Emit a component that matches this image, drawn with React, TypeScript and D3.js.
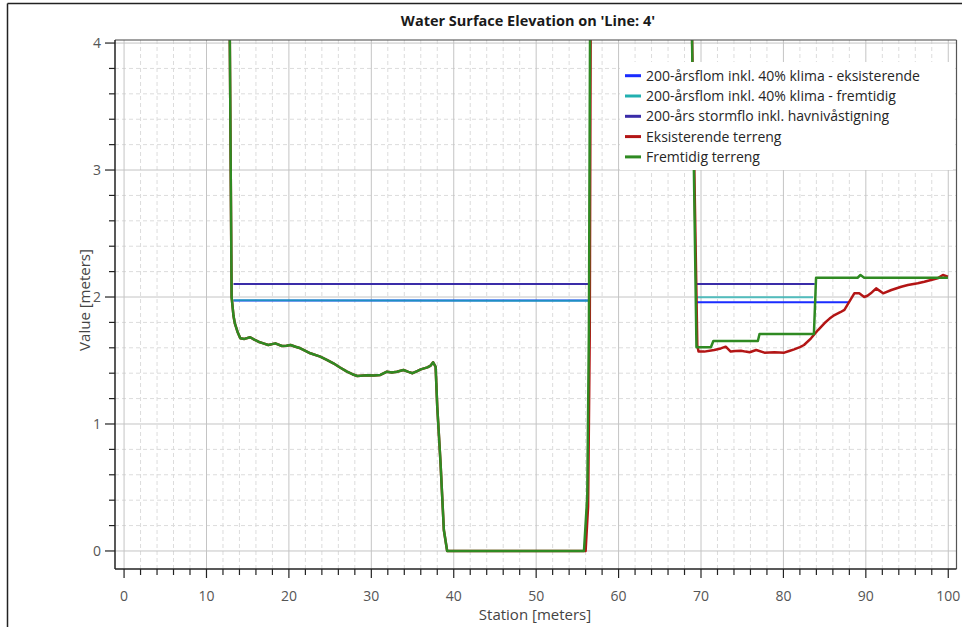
import React from "react";
import * as d3 from "d3";

// Cross-section geometry along 'Line: 4' (station in m, elevation in m)
const channelStations = [12.8, 13.05, 13.28, 13.45, 13.8, 14.1, 14.6, 15.3, 15.8, 16.3, 16.9, 17.5, 18.35, 19.16, 19.7, 20.2, 20.8, 21.4, 22.6, 23.8, 24.6, 25.4, 26.2, 27.05, 27.7, 28.3, 29.5, 30.3, 31.1, 31.9, 32.5, 33.1, 33.9, 34.5, 35.0, 35.5, 36.0, 36.8, 37.2, 37.5, 37.8, 38.0, 38.4, 38.8, 39.2, 55.8];
const channelElevation = [4.3, 2.0, 1.85, 1.79, 1.72, 1.675, 1.67, 1.683, 1.665, 1.648, 1.635, 1.622, 1.635, 1.614, 1.616, 1.622, 1.608, 1.596, 1.557, 1.53, 1.505, 1.478, 1.445, 1.412, 1.392, 1.378, 1.383, 1.382, 1.386, 1.412, 1.405, 1.412, 1.425, 1.41, 1.4, 1.415, 1.43, 1.446, 1.46, 1.486, 1.45, 1.136, 0.69, 0.165, 0.0, 0.0];

const existingBankStations = [56.0, 56.3, 56.5, 56.62, 68.85, 69.55, 69.7, 70.4, 71.6, 72.4, 73.0, 73.6, 74.2, 74.85, 75.4, 75.9, 76.7, 77.7, 78.9, 80.1, 80.7, 81.3, 82.0, 82.5, 83.35, 84.2, 84.97, 85.6, 86.2, 86.9, 87.4, 88.0, 88.6, 89.2, 89.8, 90.2, 90.6, 91.25, 92.1, 93.1, 94.3, 95.1, 96.3, 97.1, 97.9, 98.7, 99.35, 99.96];
const existingBankElevation = [0.0, 0.35, 1.7, 4.3, 4.3, 1.62, 1.57, 1.57, 1.583, 1.595, 1.609, 1.57, 1.575, 1.577, 1.57, 1.565, 1.583, 1.562, 1.565, 1.562, 1.575, 1.588, 1.605, 1.622, 1.675, 1.74, 1.793, 1.83, 1.858, 1.88, 1.898, 1.963, 2.029, 2.029, 2.0, 2.01, 2.029, 2.068, 2.029, 2.055, 2.081, 2.094, 2.108, 2.12, 2.134, 2.147, 2.173, 2.16];

const futureBankStations = [56.2, 56.4, 56.55, 68.85, 69.45, 71.2, 71.5, 76.9, 77.1, 83.7, 83.96, 89.0, 89.35, 89.8, 99.96];
const futureBankElevation = [0.43, 1.74, 4.3, 4.3, 1.604, 1.604, 1.654, 1.654, 1.709, 1.709, 2.152, 2.152, 2.173, 2.152, 2.152];

// Water surface levels, two wetted reaches separated by a gap (NaN)
const floodExistingStations = [13.28, 56.45, NaN, 69.5, 88.0];
const floodExistingLevel = [1.972, 1.972, NaN, 1.958, 1.958];
const floodFutureStations = [13.28, 56.45, NaN, 69.5, 83.6];
const floodFutureLevel = [1.975, 1.97, NaN, 1.998, 1.998];
const stormSurgeStations = [13.28, 56.45, NaN, 69.5, 83.8];
const stormSurgeLevel = [2.102, 2.102, NaN, 2.102, 2.102];

const seriesNames = [
  "200-årsflom inkl. 40% klima - eksisterende",
  "200-årsflom inkl. 40% klima - fremtidig",
  "200-års stormflo inkl. havnivåstigning",
  "Eksisterende terreng",
  "Fremtidig terreng",
];
const seriesColors = ["#1a2cff", "#22b0b0", "#3a2ca8", "#b31515", "#2f8a22"];

const xMajorTicks = [0, 10, 20, 30, 40, 50, 60, 70, 80, 90, 100];
const yMajorTicks = [0, 1, 2, 3, 4];

const W = 962;
const H = 627;
const plot = { left: 115, right: 956.5, top: 40, bottom: 569 };
const FONT = "'Open Sans', 'Noto Sans', sans-serif";

type Pt = { x: number; y: number };
const zip = (xs: number[], ys: number[]): Pt[] => xs.map((x, i) => ({ x, y: ys[i] }));

export default function App() {
  const x = d3.scaleLinear().domain([-1.1, 101.0]).range([plot.left, plot.right]);
  const y = d3.scaleLinear().domain([-0.142, 4.024]).range([plot.bottom, plot.top]);
  const line = d3
    .line<Pt>()
    .defined((d) => !isNaN(d.x) && !isNaN(d.y))
    .x((d) => x(d.x))
    .y((d) => y(d.y));

  const existingTerrain = zip(
    [...channelStations, ...existingBankStations],
    [...channelElevation, ...existingBankElevation]
  );
  const futureTerrain = zip(
    [...channelStations, ...futureBankStations],
    [...channelElevation, ...futureBankElevation]
  );

  const xMinor = d3.range(0, 101, 2).filter((v) => v % 10 !== 0);
  const yMinor = d3.range(0, 4.01, 0.2).map((v) => +v.toFixed(1)).filter((v) => Math.abs(v - Math.round(v)) > 0.01);

  const legendX = 620;
  const legendY = 62;
  const legendRow = 20.3;

  return (
    <svg width={W} height={H} style={{ position: "absolute", left: 0, top: 0, background: "#fff" }}>
      <defs>
        <clipPath id="plot-clip">
          <rect x={plot.left} y={plot.top} width={plot.right - plot.left} height={plot.bottom - plot.top} />
        </clipPath>
      </defs>
      <rect x={0} y={0} width={W} height={H} fill="#fff" />
      {/* outer frame */}
      <line x1={7.5} y1={3.5} x2={W} y2={3.5} stroke="#222" strokeWidth={1.5} />
      <line x1={7.5} y1={3.5} x2={7.5} y2={H} stroke="#222" strokeWidth={1.5} />

      <text x={528} y={26} textAnchor="middle" fontFamily={FONT} fontWeight="bold" fontSize={14.5} fill="#1a1a1a">
        Water Surface Elevation on 'Line: 4'
      </text>

      {/* grid */}
      <g>
        {xMinor.map((v) => (
          <line key={"xm" + v} x1={x(v)} x2={x(v)} y1={plot.top} y2={plot.bottom} stroke="#dcdcdc" strokeDasharray="4,3" />
        ))}
        {yMinor.map((v) => (
          <line key={"ym" + v} x1={plot.left} x2={plot.right} y1={y(v)} y2={y(v)} stroke="#dcdcdc" strokeDasharray="4,3" />
        ))}
        {xMajorTicks.map((v) => (
          <line key={"xg" + v} x1={x(v)} x2={x(v)} y1={plot.top} y2={plot.bottom} stroke="#c4c4c4" />
        ))}
        {yMajorTicks.map((v) => (
          <line key={"yg" + v} x1={plot.left} x2={plot.right} y1={y(v)} y2={y(v)} stroke="#c4c4c4" />
        ))}
      </g>

      {/* series */}
      <g clipPath="url(#plot-clip)" fill="none" strokeLinejoin="round">
        <path d={line(zip(floodExistingStations, floodExistingLevel)) || ""} stroke={seriesColors[0]} strokeWidth={2} />
        <path d={line(zip(floodFutureStations, floodFutureLevel)) || ""} stroke={seriesColors[1]} strokeWidth={2} strokeOpacity={0.75} />
        <path d={line(zip(stormSurgeStations, stormSurgeLevel)) || ""} stroke={seriesColors[2]} strokeWidth={2} />
        <path d={line(existingTerrain) || ""} stroke={seriesColors[3]} strokeWidth={2.5} />
        <path d={line(futureTerrain) || ""} stroke={seriesColors[4]} strokeWidth={2.5} />
      </g>

      {/* frame */}
      <line x1={plot.left} x2={plot.right} y1={plot.top} y2={plot.top} stroke="#444" strokeWidth={1.2} />
      <line x1={plot.right} x2={plot.right} y1={plot.top} y2={plot.bottom} stroke="#555" strokeWidth={1.2} />
      <line x1={plot.left} x2={plot.right} y1={plot.bottom} y2={plot.bottom} stroke="#222" strokeWidth={1.5} />
      <line x1={plot.left} x2={plot.left} y1={plot.top} y2={plot.bottom} stroke="#222" strokeWidth={1.5} />

      {/* x axis ticks */}
      {xMinor.map((v) => (
        <line key={"xt" + v} x1={x(v)} x2={x(v)} y1={plot.bottom} y2={plot.bottom + 6} stroke="#222" strokeWidth={1.2} />
      ))}
      {xMajorTicks.map((v) => (
        <g key={"xT" + v}>
          <line x1={x(v)} x2={x(v)} y1={plot.bottom} y2={plot.bottom + 9} stroke="#222" strokeWidth={1.2} />
          <text x={x(v)} y={601} textAnchor="middle" fontFamily={FONT} fontSize={14} fill="#555">
            {v}
          </text>
        </g>
      ))}
      <text x={535} y={620} textAnchor="middle" fontFamily={FONT} fontSize={15} fill="#444">
        Station [meters]
      </text>

      {/* y axis ticks */}
      {yMinor.map((v) => (
        <line key={"yt" + v} x1={plot.left - 6} x2={plot.left} y1={y(v)} y2={y(v)} stroke="#222" strokeWidth={1.2} />
      ))}
      {yMajorTicks.map((v) => (
        <g key={"yT" + v}>
          <line x1={plot.left - 10} x2={plot.left} y1={y(v)} y2={y(v)} stroke="#222" strokeWidth={1.2} />
          <text x={101} y={y(v)} dy="0.35em" textAnchor="end" fontFamily={FONT} fontSize={14} fill="#555">
            {v}
          </text>
        </g>
      ))}
      <text
        transform={`translate(84, 300) rotate(-90)`}
        textAnchor="middle"
        dominantBaseline="central"
        fontFamily={FONT}
        fontSize={15}
        fill="#444"
      >
        Value [meters]
      </text>

      {/* legend */}
      <rect x={legendX} y={legendY} width={333} height={108} fill="#fff" />
      {seriesNames.map((name, i) => (
        <g key={name} transform={`translate(${legendX}, ${legendY + 13.7 + i * legendRow})`}>
          <line x1={5} x2={21} y1={0} y2={0} stroke={seriesColors[i]} strokeWidth={3} />
          <text x={26} y={0} dy="0.35em" fontFamily={FONT} fontSize={14} fill="#262626">
            {name}
          </text>
        </g>
      ))}
    </svg>
  );
}
